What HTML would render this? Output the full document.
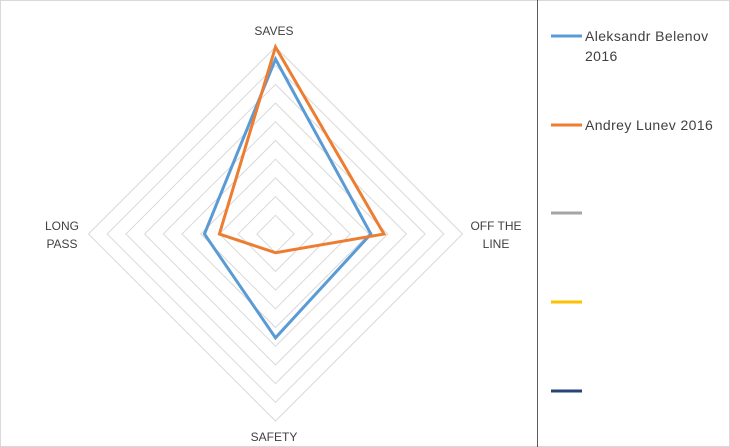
<!DOCTYPE html>
<html><head><meta charset="utf-8"><style>
body{margin:0;background:#fff;}
#wrap{position:relative;width:730px;height:447px;overflow:hidden;font-family:"Liberation Sans",sans-serif;}
svg text{font-family:"Liberation Sans",sans-serif;}
</style></head><body>
<div id="wrap">
<svg id="chart" width="730" height="447">
<rect x="0.5" y="0.5" width="729" height="446" fill="#fff" stroke="#d9d9d9"/>
<line x1="537.5" y1="0" x2="537.5" y2="447" stroke="#595959" stroke-width="1"/>
<g id="grid"></g><g id="series"></g><g id="labels"></g><g id="legend"></g>
</svg>
</div>
<script>
const categories = ["SAVES","OFF THE LINE","SAFETY","LONG PASS"];
const seriesNames = ["Aleksandr Belenov 2016","Andrey Lunev 2016","","",""];
const seriesColors = ["#5b9bd5","#ed7d31","#a5a5a5","#ffc000","#264478"];
const belenov = [9.35, 5.1, 5.55, 3.8];
const lunev = [10, 5.8, 1.0, 3.0];
const maxVal = 10;
const rings = 10;
const NS="http://www.w3.org/2000/svg";
const cx=275.5, cy=234, R=187;
function pt(i,v){const a=-Math.PI/2+i*2*Math.PI/categories.length;const r=v/maxVal*R;return [cx+r*Math.cos(a),cy+r*Math.sin(a)];}
const grid=document.getElementById('grid');
for(let k=1;k<=rings;k++){
  const p=document.createElementNS(NS,'polygon');
  p.setAttribute('points',categories.map((c,i)=>pt(i,k*maxVal/rings).join(',')).join(' '));
  p.setAttribute('fill','none');p.setAttribute('stroke','#d9d9d9');p.setAttribute('stroke-width','1');
  
  
  grid.appendChild(p);
}
const ser=document.getElementById('series');
[[belenov,0],[lunev,1]].forEach(([vals,si])=>{
  const p=document.createElementNS(NS,'polygon');
  p.setAttribute('points',vals.map((v,i)=>pt(i,v).join(',')).join(' '));
  p.setAttribute('fill','none');p.setAttribute('stroke',seriesColors[si]);p.setAttribute('stroke-width','3');p.setAttribute('stroke-linejoin','miter');
  
  
  ser.appendChild(p);
});
const lab=document.getElementById('labels');
const labelDefs=[[["SAVES"],274,35],[["OFF THE","LINE"],496,230],[["SAFETY"],274,441],[["LONG","PASS"],62,230]];
labelDefs.forEach(([lines,x,y],i)=>{
  const t=document.createElementNS(NS,'text');
  t.setAttribute('x',x);t.setAttribute('y',y);t.setAttribute('text-anchor','middle');t.setAttribute('font-size','12');t.setAttribute('fill','#404040');
  
  
  lines.forEach((l,j)=>{const s=document.createElementNS(NS,'tspan');s.setAttribute('x',x);s.setAttribute('dy',j?18:0);s.textContent=l;t.appendChild(s);});
  lab.appendChild(t);
});
const leg=document.getElementById('legend');
const legY=[36,125,213,302,391];
seriesNames.forEach((n,i)=>{
  const l=document.createElementNS(NS,'line');
  l.setAttribute('x1',551);l.setAttribute('x2',582);l.setAttribute('y1',legY[i]);l.setAttribute('y2',legY[i]);
  l.setAttribute('stroke',seriesColors[i]);l.setAttribute('stroke-width','3');
  
  
  leg.appendChild(l);
  if(n){
    const t=document.createElementNS(NS,'text');
    t.setAttribute('x',585);t.setAttribute('y',legY[i]+5);t.setAttribute('font-size','14');t.setAttribute('letter-spacing','0.4');t.setAttribute('fill','#404040');
    
    
    const m=n.match(/^(.*) (2016)$/);
    if(i===0){t.innerHTML='<tspan x="585">'+m[1]+'</tspan><tspan x="585" dy="20">'+m[2]+'</tspan>';}
    else t.textContent=n;
    leg.appendChild(t);
  }
});
</script>
</body></html>
